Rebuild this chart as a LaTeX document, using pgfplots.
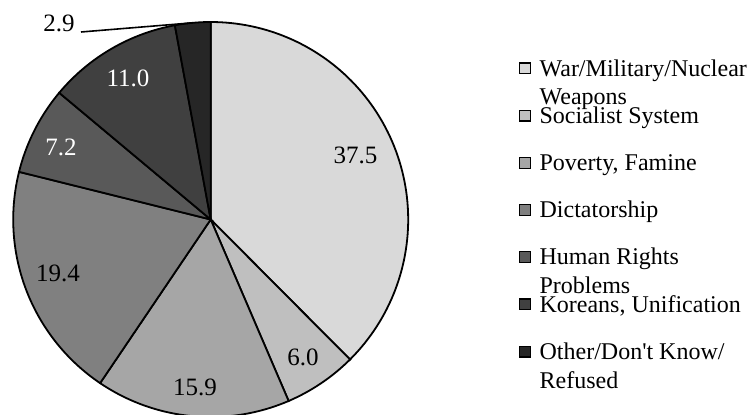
\documentclass[border=0pt]{standalone}
\usepackage{fontspec}
\setmainfont{Liberation Serif}
\usepackage{pgfplots}
\pgfplotsset{compat=1.18}
\definecolor{s1}{HTML}{D9D9D9}
\definecolor{s2}{HTML}{BFBFBF}
\definecolor{s3}{HTML}{A6A6A6}
\definecolor{s4}{HTML}{808080}
\definecolor{s5}{HTML}{595959}
\definecolor{s6}{HTML}{404040}
\definecolor{s7}{HTML}{262626}
% slice values (percent)
\pgfmathsetmacro\T{37.5+6.0+15.9+19.4+7.2+11.0+2.9}
\pgfmathsetmacro\aA{90-(37.5)/\T*360}
\pgfmathsetmacro\aB{90-(37.5+6.0)/\T*360}
\pgfmathsetmacro\aC{90-(37.5+6.0+15.9)/\T*360}
\pgfmathsetmacro\aD{90-(37.5+6.0+15.9+19.4)/\T*360}
\pgfmathsetmacro\aE{90-(37.5+6.0+15.9+19.4+7.2)/\T*360}
\pgfmathsetmacro\aF{90-(37.5+6.0+15.9+19.4+7.2+11.0)/\T*360}
\pgfmathsetmacro\aG{90-(37.5+6.0+15.9+19.4+7.2+11.0+2.9)/\T*360}
\newcommand\twoline[2]{\begin{tabular}[t]{@{}l@{}}#1\\#2\end{tabular}}
\begin{document}
\begin{tikzpicture}
\path[use as bounding box] (0,0) rectangle (374pt,207pt);
\begin{axis}[
  anchor=origin, at={(105.35pt,97.25pt)},
  x=98.75pt, y=98.75pt,
  xmin=-1, xmax=1, ymin=-1, ymax=1,
  hide axis, clip=false,
  legend style={at={(1.281,0.9139)}, anchor=north west, draw=none, fill=none,
    inner sep=0pt, outer sep=0pt, row sep=13.6pt, column sep=4.2pt,
    font=\fontsize{12}{14.4}\selectfont,
    cells={anchor=base west},
    nodes={inner sep=0pt, outer sep=0pt, anchor=base west, text height=10pt, text depth=0pt}},
  legend image code/.code={\draw[#1, line width=0.6pt] (0pt,1.1pt) rectangle (5.4pt,6.5pt);},
  every axis plot/.append style={draw=black, line width=0.9pt},
  samples=90, variable=\t,
]
\addplot[fill=s1, domain=\aA:90] ({cos(\t)},{sin(\t)}) -- (axis cs:0,0) -- cycle;
\addlegendentry{\twoline{War/Military/Nuclear}{Weapons}}
\addplot[fill=s2, domain=\aB:\aA] ({cos(\t)},{sin(\t)}) -- (axis cs:0,0) -- cycle;
\addlegendentry{Socialist System}
\addplot[fill=s3, domain=\aC:\aB] ({cos(\t)},{sin(\t)}) -- (axis cs:0,0) -- cycle;
\addlegendentry{Poverty, Famine}
\addplot[fill=s4, domain=\aD:\aC] ({cos(\t)},{sin(\t)}) -- (axis cs:0,0) -- cycle;
\addlegendentry{Dictatorship}
\addplot[fill=s5, domain=\aE:\aD] ({cos(\t)},{sin(\t)}) -- (axis cs:0,0) -- cycle;
\addlegendentry{\twoline{Human Rights}{Problems}}
\addplot[fill=s6, domain=\aF:\aE] ({cos(\t)},{sin(\t)}) -- (axis cs:0,0) -- cycle;
\addlegendentry{Koreans, Unification}
\addplot[fill=s7, domain=\aG:\aF] ({cos(\t)},{sin(\t)}) -- (axis cs:0,0) -- cycle;
\addlegendentry{\twoline{Other/Don\textquotesingle t Know/}{Refused}}
\begin{scope}[every node/.style={inner sep=0pt, font=\fontsize{12.5}{15}\selectfont}]
\node at (axis cs:0.733,0.327) {37.5};
\node at (axis cs:0.467,-0.696) {6.0};
\node at (axis cs:-0.0795,-0.848) {15.9};
\node at (axis cs:-0.773,-0.271) {19.4};
\node[text=white] at (axis cs:-0.758,0.367) {7.2};
\node[text=white] at (axis cs:-0.419,0.716) {11.0};
\node[anchor=base east] at (axis cs:-0.6871,0.9509) {2.9};
\end{scope}
\draw[line width=0.8pt] (axis cs:-0.6567,0.9494) -- (axis cs:-0.0906,0.9959);
\end{axis}
\end{tikzpicture}
\end{document}
